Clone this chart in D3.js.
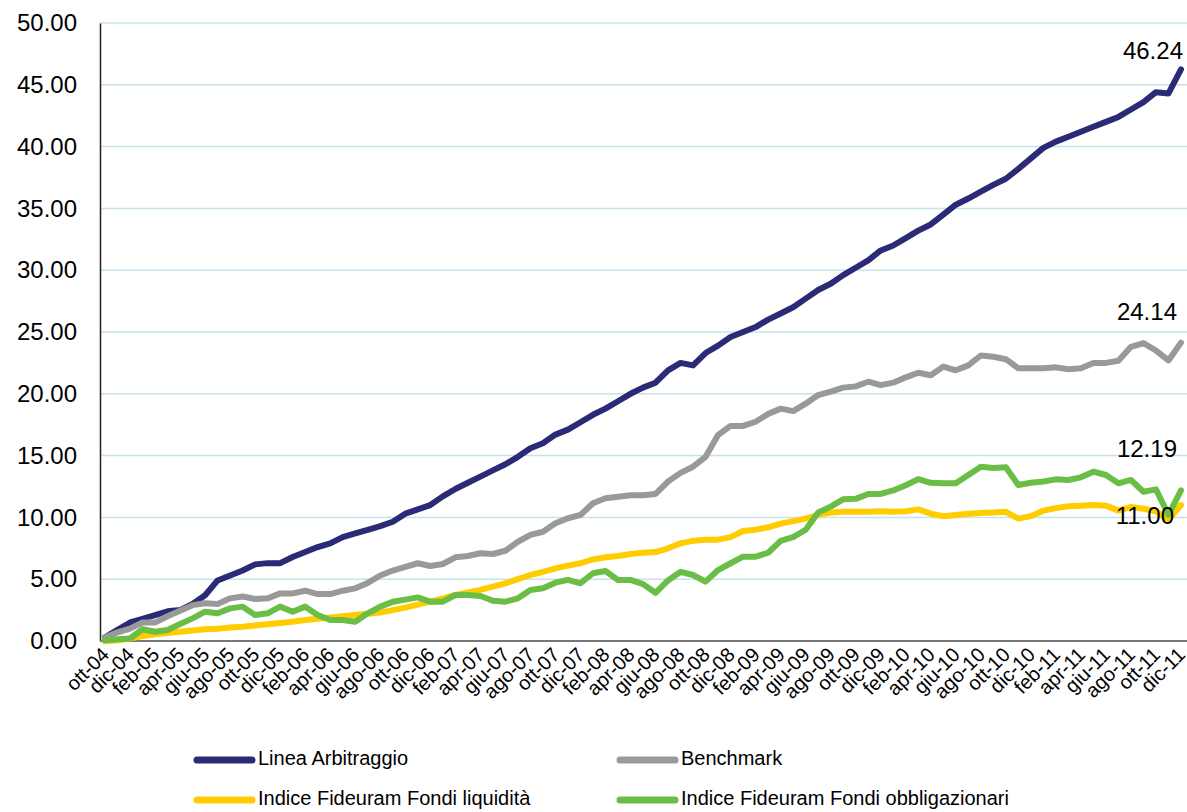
<!DOCTYPE html>
<html>
<head>
<meta charset="utf-8">
<script src="https://cdnjs.cloudflare.com/ajax/libs/d3/7.8.5/d3.min.js"></script>
<style>
  body { margin: 0; background: #fff; }
  text { font-family: "Liberation Sans", Arial, sans-serif; fill: #000; }
</style>
</head>
<body>
<div id="chart"></div>
<script>
// months oct 2004 -> dec 2011
const monthNames = ['gen','feb','mar','apr','mag','giu','lug','ago','set','ott','nov','dic']
const categories = []
for (let y = 2004; y <= 2011; y++) {
  monthNames.forEach((m, k) => {
    if (y === 2004 && k < 9) return
    categories.push(m + '-' + String(y).slice(2))
  })
}
const tickLabels = categories.filter((d, i) => i % 2 === 0)

const seriesNames = ['Linea Arbitraggio', 'Benchmark', 'Indice Fideuram Fondi liquidità', 'Indice Fideuram Fondi obbligazionari']
const seriesColors = ['#2a2a76', '#999999', '#ffcc00', '#6abd45']

const arbitraggio = [
  0.3,0.9,1.5,1.8,2.1,2.4,2.5,3.0,3.7,4.9,
  5.3,5.7,6.2,6.3,6.3,6.8,7.2,7.6,7.9,8.4,
  8.7,9.0,9.3,9.65,10.3,10.65,11.0,11.7,12.3,12.8,
  13.3,13.8,14.3,14.9,15.6,16.0,16.7,17.1,17.7,18.3,
  18.8,19.4,20.0,20.5,20.9,21.9,22.5,22.3,23.3,23.9,
  24.6,25.0,25.4,26.0,26.5,27.0,27.7,28.4,28.9,29.6,
  30.2,30.8,31.6,32.0,32.6,33.2,33.7,34.5,35.3,35.8,
  36.35,36.9,37.4,38.2,39.05,39.9,40.4,40.8,41.2,41.6,
  42.0,42.4,43.0,43.6,44.4,44.3,46.24
]
const benchmark = [
  0.3,0.7,1.0,1.5,1.5,2.0,2.45,2.9,3.05,3.0,
  3.45,3.6,3.4,3.45,3.85,3.85,4.07,3.8,3.8,4.07,
  4.26,4.7,5.3,5.7,6.0,6.29,6.07,6.23,6.77,6.88,
  7.1,7.04,7.3,8.03,8.58,8.84,9.52,9.93,10.2,11.14,
  11.55,11.67,11.8,11.8,11.9,12.9,13.6,14.1,14.9,16.67,
  17.4,17.4,17.74,18.37,18.8,18.6,19.2,19.9,20.17,20.5,
  20.6,20.98,20.7,20.9,21.33,21.7,21.5,22.2,21.9,22.3,
  23.1,23.0,22.8,22.06,22.06,22.06,22.14,21.98,22.06,22.5,
  22.5,22.68,23.8,24.1,23.5,22.7,24.14
]
const liquidita = [
  0.0,0.05,0.2,0.4,0.55,0.65,0.75,0.85,0.95,1.0,
  1.1,1.15,1.25,1.35,1.45,1.55,1.7,1.8,1.9,2.0,
  2.1,2.2,2.3,2.5,2.7,2.95,3.18,3.45,3.72,3.92,
  4.13,4.4,4.67,5.0,5.34,5.6,5.88,6.1,6.29,6.6,
  6.77,6.88,7.04,7.14,7.2,7.5,7.9,8.1,8.2,8.2,
  8.4,8.9,9.0,9.2,9.5,9.7,9.9,10.2,10.4,10.45,
  10.45,10.45,10.5,10.45,10.5,10.65,10.3,10.1,10.2,10.3,
  10.35,10.4,10.45,9.9,10.1,10.55,10.75,10.9,10.95,11.0,
  10.95,10.55,10.85,10.7,10.5,9.8,11.0
]
const obbligazionari = [
  0.05,0.15,0.2,0.95,0.75,0.89,1.37,1.83,2.37,2.24,
  2.64,2.78,2.1,2.24,2.78,2.37,2.78,2.1,1.7,1.7,
  1.56,2.24,2.78,3.18,3.35,3.53,3.18,3.18,3.72,3.72,
  3.64,3.26,3.18,3.45,4.13,4.26,4.72,4.94,4.67,5.48,
  5.66,4.94,4.94,4.6,3.9,4.9,5.6,5.34,4.8,5.74,
  6.29,6.82,6.82,7.14,8.1,8.4,9.0,10.4,10.87,11.46,
  11.5,11.9,11.9,12.18,12.6,13.1,12.8,12.76,12.76,13.43,
  14.1,14.0,14.05,12.62,12.8,12.9,13.08,13.03,13.24,13.7,
  13.43,12.76,13.03,12.08,12.27,10.2,12.19
]
const allSeries = [arbitraggio, benchmark, liquidita, obbligazionari]
const yTicks = [0,5,10,15,20,25,30,35,40,45,50]

const W = 1187, H = 812
const margin = {top: 23, right: 0, left: 100, bottom: 171}

const svg = d3.select('#chart').append('svg').attr('width', W).attr('height', H)

const x = d3.scalePoint().domain(categories).range([margin.left, W - 1]).padding(0.4)
const y = d3.scaleLinear().domain([0, 50]).range([H - margin.bottom, margin.top])

// gridlines
svg.append('g').selectAll('line').data(yTicks.filter(d => d > 0)).enter().append('line')
  .attr('x1', margin.left).attr('x2', W)
  .attr('y1', d => y(d)).attr('y2', d => y(d))
  .attr('stroke', '#c6e2ec').attr('stroke-width', 1.5)

// y axis
const yAxis = d3.axisLeft(y).tickValues(yTicks).tickFormat(d3.format('.2f')).tickSize(0).tickPadding(23)
const yG = svg.append('g').attr('transform', `translate(${margin.left},0)`).call(yAxis)
yG.select('.domain').attr('stroke', '#222').attr('stroke-width', 1.5)
yG.selectAll('text').style('font-size', '24px').attr('fill', '#000')

// x axis
const xAxis = d3.axisBottom(x).tickValues(tickLabels).tickSize(0).tickSizeOuter(0)
const xG = svg.append('g').attr('transform', `translate(0,${y(0)})`).call(xAxis)
xG.select('.domain').attr('stroke', '#777').attr('stroke-width', 2).attr('d', `M${margin.left},0H${W}`)
xG.selectAll('text')
  .style('font-size', '20px').attr('fill', '#000')
  .attr('text-anchor', 'end')
  .attr('transform', 'translate(0,10) rotate(-45)')
  .attr('dy', '0.35em').attr('y', 0)

// lines
const line = d3.line().x((d, i) => x(categories[i])).y(d => y(d))
svg.append('g').selectAll('path').data(allSeries).enter().append('path')
  .attr('d', line)
  .attr('fill', 'none')
  .attr('stroke', (d, i) => seriesColors[i])
  .attr('stroke-width', 6)
  .attr('stroke-linejoin', 'round')
  .attr('stroke-linecap', 'round')

// end labels
const last = categories[categories.length - 1]
const endLabels = [
  {v: arbitraggio, off: -17, dx: 2},
  {v: benchmark, off: -29, dx: -4},
  {v: obbligazionari, off: -40, dx: -4},
  {v: liquidita, off: 13, dx: -7}
]
svg.append('g').selectAll('text').data(endLabels).enter().append('text')
  .attr('x', d => x(last) + d.dx)
  .attr('y', d => y(d.v[d.v.length - 1]) + d.off)
  .attr('text-anchor', 'end')
  .attr('dominant-baseline', 'middle')
  .style('font-size', '24px')
  .text(d => d.v[d.v.length - 1].toFixed(2))

// legend
const legend = svg.append('g')
const legPos = [[197, 760], [620, 760], [197, 800], [620, 800]]
seriesNames.forEach((name, i) => {
  const [lx, ly] = legPos[i]
  legend.append('line').attr('x1', lx).attr('x2', lx + 55).attr('y1', ly).attr('y2', ly)
    .attr('stroke', seriesColors[i]).attr('stroke-width', 7).attr('stroke-linecap', 'round')
  legend.append('text').attr('x', lx + 61).attr('y', ly).attr('dominant-baseline', 'middle')
    .style('font-size', '20px').text(name)
})
</script>
</body>
</html>
